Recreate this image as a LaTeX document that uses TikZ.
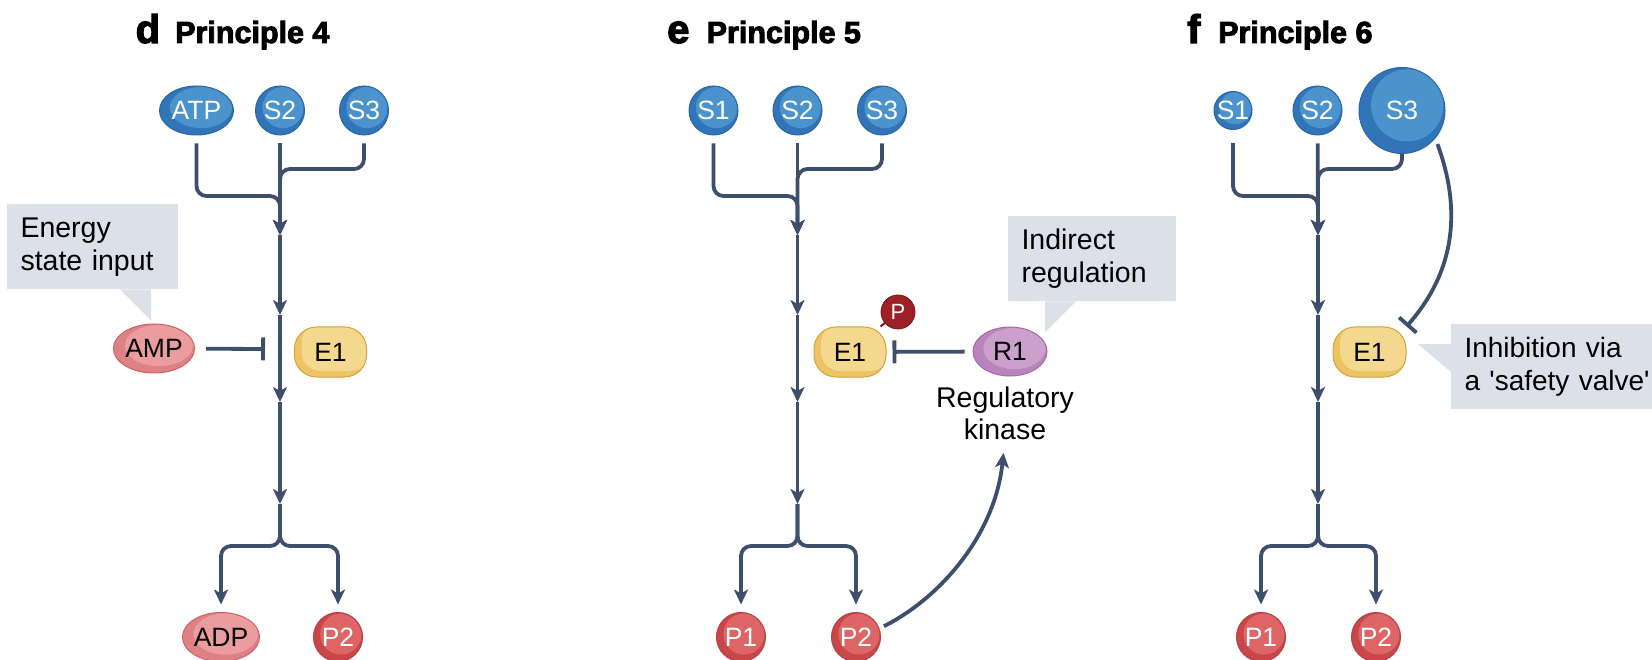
\documentclass[tikz,border=0pt]{standalone}
\usepackage{fontspec}
\setmainfont{Liberation Sans}
\newfontfamily\headfont[FakeBold=3]{Liberation Sans Bold}
\usetikzlibrary{
  arrows.meta,      % Stealth and Bar tips
  shapes.geometric, % ellipse nodes
  calc,             % highlight inside the molecules
  positioning       % label under R1
}

\definecolor{linec}{HTML}{3D4F6D}
\definecolor{subfill}{HTML}{3274B8}
\definecolor{subhi}{HTML}{4A93CD}
\definecolor{subline}{HTML}{2A66A6}
\definecolor{prodfill}{HTML}{C94748}
\definecolor{prodhi}{HTML}{DD6566}
\definecolor{prodline}{HTML}{B83E41}
\definecolor{nucfill}{HTML}{DE8185}
\definecolor{nuchi}{HTML}{EA9C9E}
\definecolor{nucline}{HTML}{CF6469}
\definecolor{enzfill}{HTML}{ECC466}
\definecolor{enzhi}{HTML}{F3D88E}
\definecolor{enzline}{HTML}{D4A53E}
\definecolor{regfill}{HTML}{B983BB}
\definecolor{reghi}{HTML}{CBA0CD}
\definecolor{regline}{HTML}{A86AAA}
\definecolor{phosfill}{HTML}{9B2226}
\definecolor{phosline}{HTML}{7A1518}
\definecolor{notefill}{HTML}{DCE0E8}

\tikzset{
  moltext/.style={font=\fontsize{26.5pt}{30pt}\selectfont},
  hilite/.style={path picture={\fill[#1] let \p1=(path picture bounding box.south west), \p2=(path picture bounding box.north east) in ($(\p1)!0.56!(\p2)$) ellipse [x radius={0.42*(\x2-\x1)}, y radius={0.42*(\y2-\y1)}];}},
  hilitebox/.style={path picture={\fill[#1, rounded corners=19pt] ([xshift=7pt,yshift=6pt]path picture bounding box.south west) rectangle ([xshift=3pt,yshift=3pt]path picture bounding box.north east);}},
  sub/.style={circle, moltext, draw=subline, fill=subfill, hilite=subhi, line width=1pt, text=white, inner sep=0pt, minimum size=49pt},
  prod/.style={circle, moltext, draw=prodline, fill=prodfill, hilite=prodhi, line width=1pt, text=white, inner sep=0pt, minimum size=49pt},
  nuc/.style={ellipse, moltext, draw=nucline, fill=nucfill, hilite=nuchi, line width=1pt, inner sep=0pt, minimum width=74pt, minimum height=49pt},
  enz/.style={rectangle, rounded corners=22pt, moltext, draw=enzline, fill=enzfill, hilitebox=enzhi, line width=1pt, inner sep=0pt, minimum width=72pt, minimum height=50pt},
  reg/.style={ellipse, moltext, draw=regline, fill=regfill, hilite=reghi, line width=1pt, inner sep=0pt, minimum width=74pt, minimum height=49pt},
  phos/.style={circle, draw=phosline, fill=phosfill, line width=0.8pt, text=white, inner sep=0pt, minimum size=34pt, font=\fontsize{22pt}{24pt}\selectfont},
  note/.style={fill=notefill, align=left, anchor=north west, inner xsep=13.3pt, inner ysep=0pt, minimum height=85pt, font=\fontsize{28.5pt}{33pt}\selectfont},
  lab/.style={align=center, inner sep=0pt, font=\fontsize{28.5pt}{32pt}\selectfont},
  panel/.style={anchor=base west, inner sep=0pt, font=\headfont\fontsize{40pt}{44pt}\selectfont},
  ttl/.style={anchor=base west, inner sep=0pt, font=\headfont\fontsize{30.5pt}{34pt}\selectfont},
  arr/.style={draw=linec, line width=3.8pt, rounded corners=10pt, -{Stealth[length=15pt, width=14pt, inset=4pt]}},
  inh/.style={draw=linec, line width=3.8pt, -{Bar[width=23pt]}},
  phosbond/.style={draw=phosline, line width=2pt},
}

\begin{document}
\begin{tikzpicture}[x=1pt, y=-1pt]
  \path[use as bounding box, fill=white] (0,0) rectangle (1652,660);

  % d: Principle 4
  \node[panel] (d-let) at (135.5,43) {d};
  \node[ttl] (d-ttl) at (175,43) {Principle 4};
  \node[sub, ellipse, minimum width=74pt, minimum height=49pt] (d-atp) at (196.5,110.5) {ATP};
  \node[sub] (d-s2) at (280,110.5) {S2};
  \node[sub] (d-s3) at (364,110.5) {S3};
  \coordinate (d-m1) at (280,235);
  \coordinate (d-m2) at (280,315);
  \coordinate (d-m3) at (280,402);
  \coordinate (d-m4) at (280,504);
  \node[enz] (d-e1) at (330.5,352) {E1};
  \node[nuc] (d-amp) at (154,348.5) {AMP};
  \coordinate (d-bar) at (265,349);
  \node[nuc] (d-adp) at (221,637) {ADP};
  \node[prod] (d-p2) at (338,637) {P2};
  \node[note, text width=144.5pt] (d-note) at (7,204) {Energy\\state input};
  \fill[notefill] ([xshift=113pt]d-note.south west) -- ([xshift=144pt]d-note.south west) -- ++(0,31) -- cycle;

  \draw[arr, shorten <=8pt] (d-atp) |- (280,196) -- (d-m1);
  \draw[arr, shorten <=8pt] (d-s2) -- (d-m1);
  \draw[arr, shorten <=8pt] (d-s3) |- (280,169) -- (d-m1);
  \draw[arr] (d-m1) -- (d-m2);
  \draw[arr] (d-m2) -- (d-m3);
  \draw[arr] (d-m3) -- (d-m4);
  \draw[arr, shorten >=7.5pt] (d-m4) -- (280,546) -| (d-adp);
  \draw[arr, shorten >=7.5pt] (d-m4) -- (280,546) -| (d-p2);
  \draw[inh, shorten <=11pt] (d-amp) -- (d-bar);

  % e: Principle 5
  \node[panel] (e-let) at (667,43) {e};
  \node[ttl] (e-ttl) at (706.5,43) {Principle 5};
  \node[sub] (e-s1) at (713.5,110.5) {S1};
  \node[sub] (e-s2) at (797.5,110.5) {S2};
  \node[sub] (e-s3) at (882,110.5) {S3};
  \coordinate (e-m1) at (797.5,235);
  \coordinate (e-m2) at (797.5,315);
  \coordinate (e-m3) at (797.5,402);
  \coordinate (e-m4) at (797.5,504);
  \node[enz] (e-e1) at (850,352) {E1};
  \node[phos] (e-p) at (898,312) {P};
  \node[reg] (e-r1) at (1010,351.5) {R1};
  \node[lab, below=10pt of e-r1, xshift=-5pt] (e-kin) {Regulatory\\kinase};
  \node[prod] (e-p1) at (741,637) {P1};
  \node[prod] (e-p2) at (856,637) {P2};
  \node[note, text width=141pt] (e-note) at (1008,216) {Indirect\\regulation};
  \fill[notefill] ([xshift=37pt]e-note.south west) -- ++(0,31) -- ([xshift=68pt]e-note.south west) -- cycle;

  \draw[arr, shorten <=8pt] (e-s1) |- (797.5,196) -- (e-m1);
  \draw[arr, shorten <=8pt] (e-s2) -- (e-m1);
  \draw[arr, shorten <=8pt] (e-s3) |- (797.5,169) -- (e-m1);
  \draw[arr] (e-m1) -- (e-m2);
  \draw[arr] (e-m2) -- (e-m3);
  \draw[arr] (e-m3) -- (e-m4);
  \draw[arr, shorten >=7.5pt] (e-m4) -- (797.5,546) -| (e-p1);
  \draw[arr, shorten >=7.5pt] (e-m4) -- (797.5,546) -| (e-p2);
  \draw[phosbond] (e-p) -- (e-e1);
  \draw[inh, shorten <=8pt, shorten >=6pt] (e-r1) -- (e-e1);
  \draw[arr, shorten <=5pt] (e-p2.20) .. controls (940,598) and (995,535) .. ([xshift=-1.5pt,yshift=-13pt]e-kin.south);

  % f: Principle 6
  \node[panel] (f-let) at (1187,43) {f};
  \node[ttl] (f-ttl) at (1218,43) {Principle 6};
  \node[sub, minimum size=38pt] (f-s1) at (1233,110.5) {S1};
  \node[sub] (f-s2) at (1317.5,110.5) {S2};
  \node[sub, minimum size=86pt] (f-s3) at (1402,110.5) {S3};
  \coordinate (f-m1) at (1318,235);
  \coordinate (f-m2) at (1318,315);
  \coordinate (f-m3) at (1318,402);
  \coordinate (f-m4) at (1318,504);
  \node[enz, minimum width=73pt] (f-e1) at (1369.5,352) {E1};
  \node[prod] (f-p1) at (1261,637) {P1};
  \node[prod] (f-p2) at (1376,637) {P2};
  \node[note, text width=200pt, font=\fontsize{28pt}{33pt}\selectfont] (f-note) at (1451,324) {Inhibition via\\a \textquotesingle safety valve\textquotesingle};
  \fill[notefill] ([yshift=-20pt]f-note.north west) -- ++(-33,0) -- ([yshift=-48pt]f-note.north west) -- cycle;

  \draw[arr, shorten <=13pt] (f-s1) |- (1318,196) -- (f-m1);
  \draw[arr, shorten <=8pt] (f-s2) -- (f-m1);
  \draw[arr] (f-s3) |- (1318,169) -- (f-m1);
  \draw[arr] (f-m1) -- (f-m2);
  \draw[arr] (f-m2) -- (f-m3);
  \draw[arr] (f-m3) -- (f-m4);
  \draw[arr, shorten >=7.5pt] (f-m4) -- (1318,546) -| (f-p1);
  \draw[arr, shorten >=7.5pt] (f-m4) -- (1318,546) -| (f-p2);
  \draw[inh, shorten <=6pt] (f-s3.-40) .. controls (1460,205) and (1458,268) .. (f-e1.north east);
\end{tikzpicture}
\end{document}
